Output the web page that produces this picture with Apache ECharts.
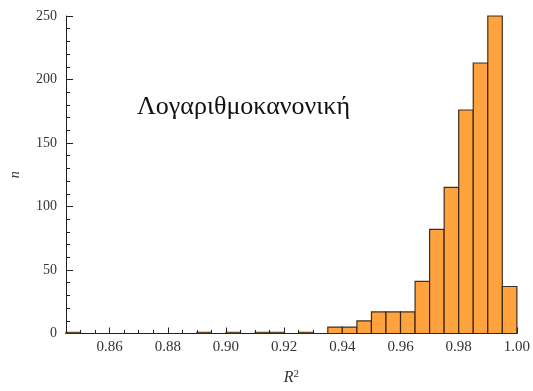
<!DOCTYPE html>
<html><head><meta charset="utf-8">
<script src="https://cdn.jsdelivr.net/npm/echarts@6/dist/echarts.min.js"></script>
<style>html,body{margin:0;padding:0;background:#fff}#c{width:533px;height:391px}</style>
</head><body><div id="c"></div>
<script>
// Histogram of R^2 (bin width 0.005)
const binStarts = [0.845, 0.890, 0.900, 0.910, 0.915, 0.925, 0.935, 0.940, 0.945, 0.950, 0.955, 0.960, 0.965, 0.970, 0.975, 0.980, 0.985, 0.990, 0.995];
const counts    = [1,     1,     1,     1,     1,     1,     5,     5,     10,    17,    17,    17,    41,    82,    115,   176,   213,   250,   37];
const binWidth = 0.005;
const xTickLabels = [0.86, 0.88, 0.90, 0.92, 0.94, 0.96, 0.98, 1.00];
const xMinorTicks = [0.845,0.85,0.855,0.865,0.87,0.875,0.885,0.89,0.895,0.905,0.91,0.915,0.925,0.93,0.935,0.945,0.95,0.955,0.965,0.97,0.975,0.985,0.99,0.995];
const titleText = 'Λογαριθμοκανονική';

const data = binStarts.map((s, i) => [s, s + binWidth, counts[i]]);
const serif = 'Liberation Serif';
const chart = echarts.init(document.getElementById('c'));
chart.setOption({
  animation: false,
  grid: {left: 61, right: 11, top: 16, bottom: 51},
  xAxis: [{
    type: 'value', min: 0.845, max: 1.0,
    axisLine: {lineStyle: {color: '#222', width: 1}},
    splitLine: {show: false},
    axisTick: {inside: true, length: 6, customValues: xTickLabels, lineStyle: {color: '#222'}},
    axisLabel: {customValues: xTickLabels, formatter: v => v.toFixed(2), color: '#333', fontFamily: serif, fontSize: 15, margin: 6},
    name: '{i|R}{s|2}', nameLocation: 'middle', nameGap: 35,
    nameTextStyle: {rich: {i: {fontFamily: serif, fontStyle: 'italic', fontSize: 16, color: '#333'}, s: {fontFamily: serif, fontSize: 11, color: '#333', verticalAlign: 'top', padding: [0,0,8,0]}}}
  }, {
    type: 'value', min: 0.845, max: 1.0, position: 'bottom',
    axisLine: {show: false}, splitLine: {show: false}, axisLabel: {show: false},
    axisTick: {inside: true, length: 3.5, customValues: xMinorTicks, lineStyle: {color: '#222'}}
  }],
  yAxis: {
    type: 'value', min: 0, max: 250, interval: 50,
    axisLine: {show: true, lineStyle: {color: '#222', width: 1}},
    splitLine: {show: false},
    axisTick: {show: true, inside: true, length: 7, lineStyle: {color: '#222'}},
    minorTick: {show: true, splitNumber: 5, length: 4, lineStyle: {color: '#222'}},
    axisLabel: {color: '#333', fontFamily: serif, fontSize: 14, margin: 9},
    name: 'n', nameLocation: 'middle', nameGap: 44, nameRotate: 90,
    nameTextStyle: {fontFamily: serif, fontStyle: 'italic', fontSize: 14, color: '#333'}
  },
  series: [{
    type: 'custom',
    data: data,
    encode: {x: [0, 1], y: 2},
    renderItem: function (params, api) {
      const p0 = api.coord([api.value(0), 0]);
      const p1 = api.coord([api.value(1), api.value(2)]);
      return {
        type: 'rect',
        shape: {x: p0[0], y: p1[1], width: p1[0] - p0[0], height: p0[1] - p1[1]},
        style: {fill: '#FFA33F', stroke: 'rgba(45,30,15,0.9)', lineWidth: 1.2}
      };
    }
  }],
  graphic: [{
    type: 'text', left: 137, top: 94,
    style: {text: titleText, font: '26px "Liberation Serif"', fill: '#111'}
  }]
});
</script></body></html>
